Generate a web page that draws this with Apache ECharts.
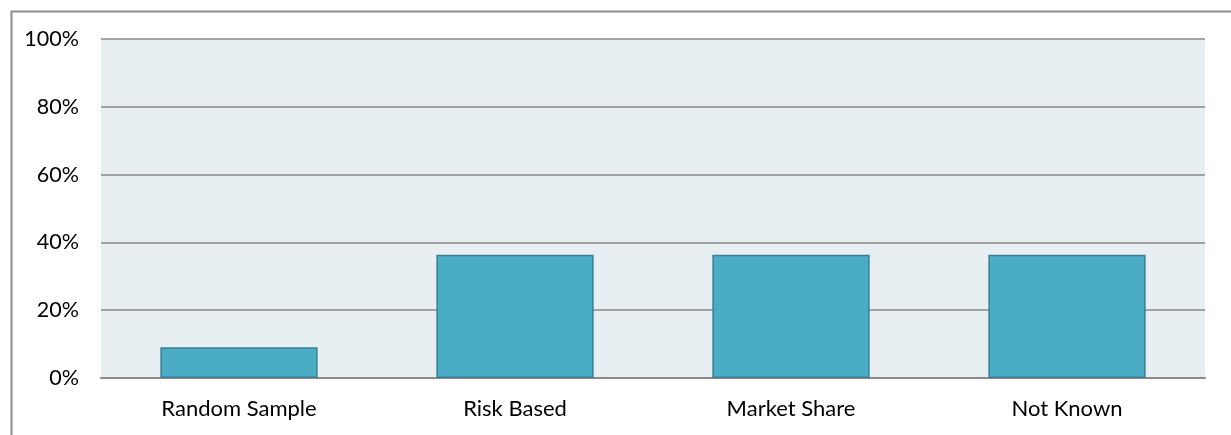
<!DOCTYPE html>
<html><head><meta charset="utf-8">
<script src="https://cdn.jsdelivr.net/npm/echarts@6/dist/echarts.min.js"></script>
<style>html,body{margin:0;padding:0;background:#fff}#c{width:1231px;height:435px}</style>
</head><body><div id="c"></div>
<script>
const categories = ['Random Sample', 'Risk Based', 'Market Share', 'Not Known'];
const values = [0.0909, 0.3636, 0.3636, 0.3636];
const yTicks = [0, 0.2, 0.4, 0.6, 0.8, 1.0];

const chart = echarts.init(document.getElementById('c'), null, {renderer: 'canvas'});
chart.setOption({
  animation: false,
  textStyle: {fontFamily: 'Lato, "Open Sans", sans-serif'},
  graphic: [{
    type: 'rect', left: 9, top: 9, z: -10,
    shape: {width: 1240, height: 440},
    style: {fill: 'none', stroke: '#8c8c8c', lineWidth: 2}
  }],
  grid: {left: 101, right: 26, top: 39, bottom: 57, show: true, backgroundColor: '#E7EFF3', borderWidth: 0},
  xAxis: {
    type: 'category', data: categories,
    axisLine: {show: true, lineStyle: {color: '#8a8a8a', width: 2}},
    axisTick: {show: false},
    axisLabel: {color: '#000', fontSize: 22, margin: 20}
  },
  yAxis: {
    type: 'value', min: 0, max: 1, interval: 0.2,
    axisLine: {show: false}, axisTick: {show: false},
    splitLine: {lineStyle: {color: '#8a8a8a', width: 1.5}},
    axisLabel: {color: '#000', fontSize: 21.5, margin: 22,
      formatter: v => yTicks.includes(Math.round(v*10)/10) ? Math.round(v*100) + '%' : ''}
  },
  series: [{
    type: 'bar', data: values, barWidth: '57%',
    itemStyle: {color: '#4BACC6', borderColor: '#3A7F92', borderWidth: 1.5}
  }]
});
</script></body></html>
